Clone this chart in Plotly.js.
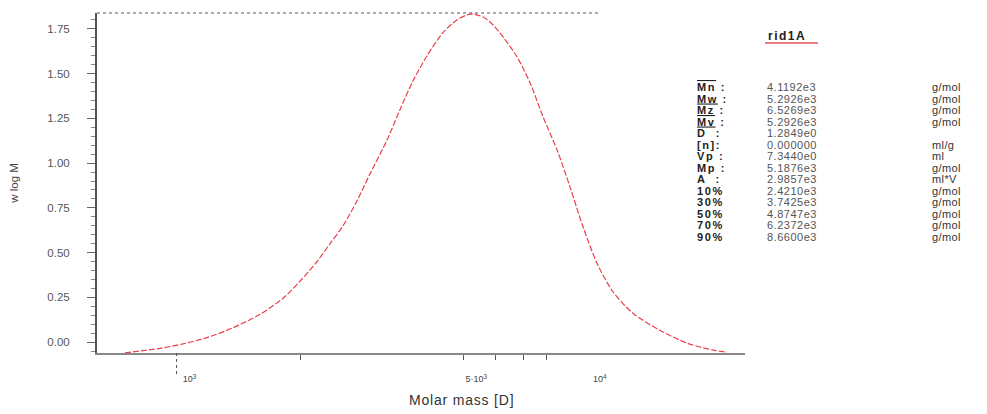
<!DOCTYPE html>
<html>
<head>
<meta charset="utf-8">
<script src="https://cdn.plot.ly/plotly-3.0.1.min.js"></script>
<style>html,body{margin:0;padding:0;background:#fff;}#chart{width:987px;height:414px;}</style>
</head>
<body>
<div id="chart"></div>
<script>
// ---- data ----
const molarMass = [748, 911, 1037, 1186, 1373, 1597, 1818, 2000, 2183, 2367, 2546, 2754, 2963, 3261, 3507, 3772, 4081, 4465, 4830, 5195, 5588, 5813, 6254, 6765, 7278, 7829, 8470, 9110, 9800, 10600, 11600, 12980, 15100, 17580, 20340, 22000];
const weight = [-0.060, -0.035, -0.010, 0.025, 0.080, 0.155, 0.245, 0.340, 0.440, 0.550, 0.650, 0.790, 0.940, 1.130, 1.300, 1.460, 1.600, 1.730, 1.800, 1.833, 1.817, 1.789, 1.705, 1.593, 1.448, 1.258, 1.073, 0.866, 0.643, 0.440, 0.280, 0.160, 0.065, -0.006, -0.045, -0.056];

const sampleName = "rid1A";
const statLabels = ["Mn :", "Mw :", "Mz :", "Mv :", "D  :", "[n]:", "Vp :", "Mp :", "A  :", "10%", "30%", "50%", "70%", "90%"];
const statValues = ["4.1192e3", "5.2926e3", "6.5269e3", "5.2926e3", "1.2849e0", "0.000000", "7.3440e0", "5.1876e3", "2.9857e3", "2.4210e3", "3.7425e3", "4.8747e3", "6.2372e3", "8.6600e3"];
const statUnits = ["g/mol", "g/mol", "g/mol", "g/mol", "", "ml/g", "ml", "g/mol", "ml*V", "g/mol", "g/mol", "g/mol", "g/mol", "g/mol"];

const xTickVals = [1000, 5000, 10000];
const xTickText = ["10<sup>3</sup>", "5·10<sup>3</sup>", "10<sup>4</sup>"];
const xMinorTicks = [2000, 5000, 6000, 7000, 8000];
const yTickVals = [0, 0.25, 0.5, 0.75, 1.0, 1.25, 1.5, 1.75];
const yTickText = ["0.00", "0.25", "0.50", "0.75", "1.00", "1.25", "1.50", "1.75"];

// ---- layout helpers ----
const W = 987, H = 414;
const M = {l: 97, r: 242, t: 13, b: 61};
const PW = W - M.l - M.r, PH = H - M.t - M.b;
const px2x = p => (p - M.l) / PW;
const py2y = p => (H - M.b - p) / PH;

const FONT = "Liberation Sans, Arial, sans-serif";

const rowTop = 87, rowStep = 11.5;
const baseSize = rowStep / 1.3;          // plotly line spacing = 1.3 * font size
const nRows = statLabels.length;
const blockMid = py2y(rowTop + (nRows - 1) * rowStep / 2);

const labelLines = statLabels.map((lab, i) => {
  let t = lab;
  if (i === 0) t = '<span style="text-decoration:overline">Mn</span> :';
  else if (i >= 1 && i <= 3) t = '<span style="text-decoration:underline">' + lab.slice(0, 2) + '</span> :';
  return '<b><span style="font-size:11px;letter-spacing:1.6px">' + t + '</span></b>';
});
const valueLines = statValues.map(v => '<span style="font-size:11px;letter-spacing:0.5px">' + v + '</span>');
const unitLines = statUnits.map(u => '<span style="font-size:11px;letter-spacing:0.4px">' + (u || '&nbsp;') + '</span>');

const annotations = [
  {xref: "paper", yref: "paper", x: px2x(766), y: py2y(36), xanchor: "left", yanchor: "middle",
   text: '<b><span style="letter-spacing:1.5px">' + sampleName + '</span></b>', showarrow: false,
   font: {family: FONT, size: 12, color: "#222"}},
  {xref: "paper", yref: "paper", x: px2x(695), y: blockMid, xanchor: "left", yanchor: "middle", align: "left",
   text: labelLines.join("<br>"), showarrow: false, font: {family: FONT, size: baseSize, color: "#222"}},
  {xref: "paper", yref: "paper", x: px2x(765), y: blockMid, xanchor: "left", yanchor: "middle", align: "left",
   text: valueLines.join("<br>"), showarrow: false, font: {family: FONT, size: baseSize, color: "#555"}},
  {xref: "paper", yref: "paper", x: px2x(930), y: blockMid, xanchor: "left", yanchor: "middle", align: "left",
   text: unitLines.join("<br>"), showarrow: false, font: {family: FONT, size: baseSize, color: "#333"}},
  {xref: "paper", yref: "paper", x: px2x(461), y: py2y(400), xanchor: "center", yanchor: "middle",
   text: '<span style="letter-spacing:0.8px">Molar mass [D]</span>', showarrow: false,
   font: {family: FONT, size: 14, color: "#333"}}
];

const shapes = [
  {type: "line", xref: "paper", yref: "paper", x0: 0, x1: px2x(598), y0: 1, y1: 1,
   line: {color: "#555", width: 1, dash: "dot"}},
  {type: "line", xref: "x", yref: "paper", x0: 1000, x1: 1000, y0: 0, y1: -0.065,
   line: {color: "#555", width: 1, dash: "dot"}},
  {type: "line", xref: "paper", yref: "paper", x0: px2x(765), x1: px2x(818), y0: py2y(43), y1: py2y(43),
   line: {color: "#e05060", width: 1.5}}
];

const trace = {
  x: molarMass, y: weight, type: "scatter", mode: "lines",
  line: {color: "#e8404c", width: 1.2, dash: "6px,2px", shape: "spline", smoothing: 0.8},
  hoverinfo: "skip"
};

const layout = {
  width: W, height: H,
  margin: M,
  paper_bgcolor: "#fff", plot_bgcolor: "#fff",
  showlegend: false,
  font: {family: FONT, color: "#444"},
  xaxis: {
    type: "log", range: [2.806, 4.386],
    showgrid: false, zeroline: false,
    showline: true, linecolor: "#888", linewidth: 1.5,
    tickmode: "array", tickvals: xTickVals, ticktext: xTickText,
    ticks: "outside", ticklen: 0, tickcolor: "#555",
    ticklabelshift: 13, ticklabelstandoff: 17,
    tickfont: {family: FONT, size: 9, color: "#444"},
    minor: {tickmode: "array", tickvals: xMinorTicks, ticks: "outside", ticklen: 5, tickcolor: "#555", showgrid: false}
  },
  yaxis: {
    range: [-0.061, 1.839],
    showgrid: false, zeroline: false,
    showline: true, linecolor: "#555", linewidth: 2,
    tickmode: "array", tickvals: yTickVals, ticktext: yTickText,
    ticks: "outside", ticklen: 8, tickcolor: "#666", tickwidth: 1,
    ticklabelstandoff: 15,
    tickfont: {family: FONT, size: 11.5, color: "#555"},
    minor: {dtick: 0.05, ticks: "outside", ticklen: 4, tickcolor: "#888", showgrid: false},
    title: {text: "w log M", font: {family: FONT, size: 11.5, color: "#444"}, standoff: 26}
  },
  annotations: annotations,
  shapes: shapes
};

Plotly.newPlot("chart", [trace], layout, {displayModeBar: false, staticPlot: true});
</script>
</body>
</html>
